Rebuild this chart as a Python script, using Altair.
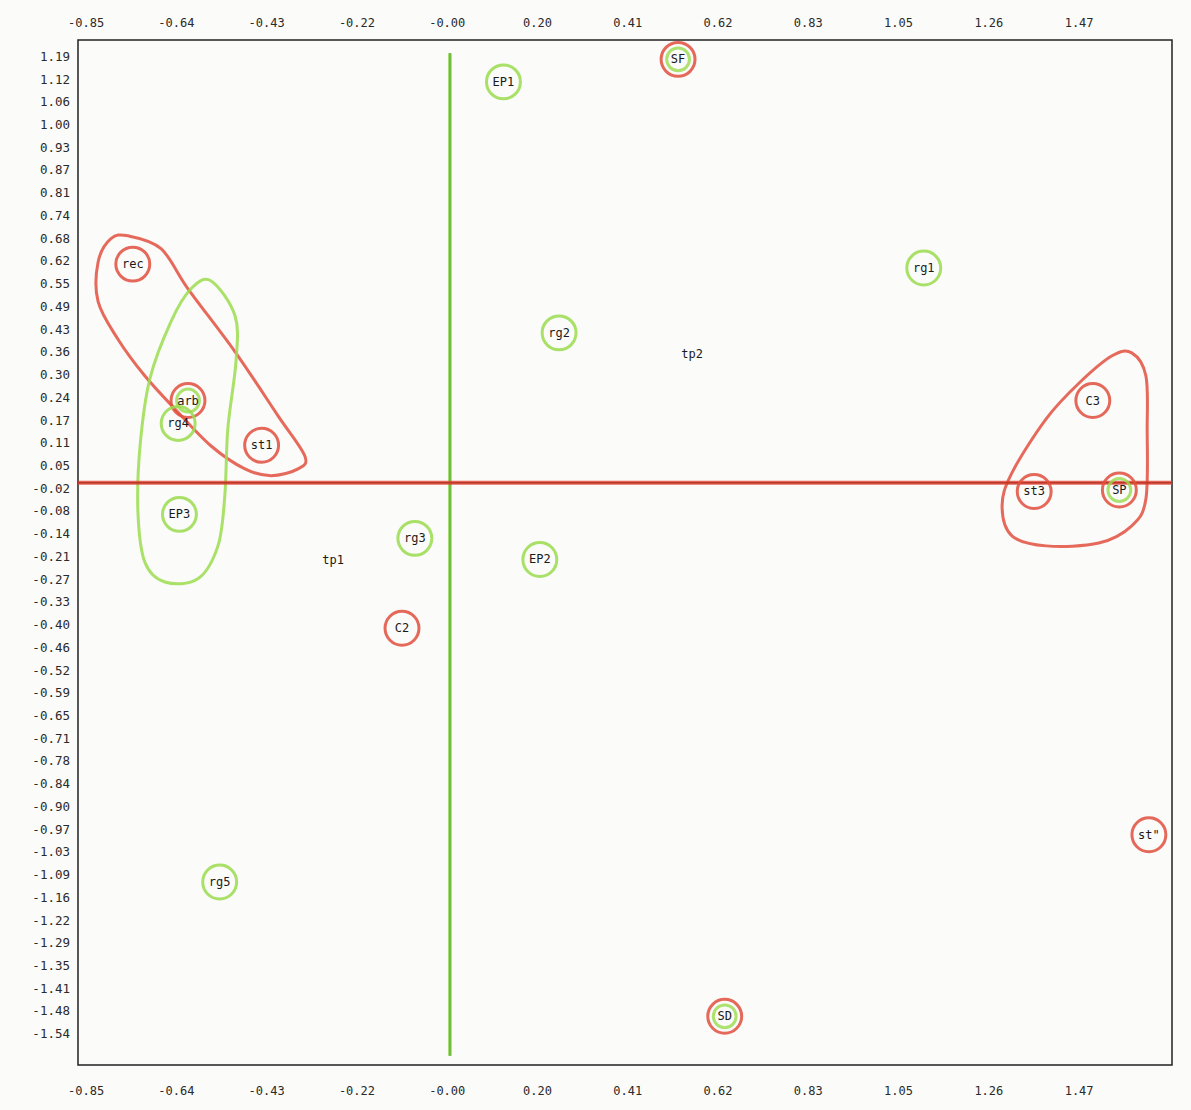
import altair as alt
import numpy as np
import pandas as pd

# Correspondence-analysis map: item coordinates on the first two axes
labels = ["EP1", "SF", "rg1", "rg2", "tp2", "rec", "arb", "rg4", "st1", "C3",
          "st3", "SP", "EP3", "rg3", "tp1", "EP2", "C2", 'st"', "rg5", "SD"]
coord_x = [0.125, 0.533, 1.107, 0.255, 0.566, -0.741, -0.612, -0.635, -0.440, 1.502,
           1.365, 1.564, -0.632, -0.082, -0.273, 0.210, -0.112, 1.633, -0.538, 0.642]
coord_y = [1.120, 1.183, 0.600, 0.419, 0.359, 0.611, 0.230, 0.166, 0.105, 0.230,
           -0.024, -0.020, -0.088, -0.155, -0.216, -0.214, -0.406, -0.983, -1.115, -1.490]
# hand-marked rings around items ("" = no ring)
outer_ring = ["green", "red", "green", "green", "", "red", "red", "green", "red", "red",
              "red", "red", "green", "green", "", "green", "red", "red", "green", "red"]
inner_ring = ["", "green", "", "", "", "", "green", "", "", "",
              "", "green", "", "", "", "", "", "", "", "green"]

# axis tick labels as printed (ticks are evenly spaced between the end labels)
x_tick_labels = ["-0.85", "-0.64", "-0.43", "-0.22", "-0.00", "0.20", "0.41", "0.62",
                 "0.83", "1.05", "1.26", "1.47"]
y_tick_labels = ["1.19", "1.12", "1.06", "1.00", "0.93", "0.87", "0.81", "0.74", "0.68",
                 "0.62", "0.55", "0.49", "0.43", "0.36", "0.30", "0.24", "0.17", "0.11",
                 "0.05", "-0.02", "-0.08", "-0.14", "-0.21", "-0.27", "-0.33", "-0.40",
                 "-0.46", "-0.52", "-0.59", "-0.65", "-0.71", "-0.78", "-0.84", "-0.90",
                 "-0.97", "-1.03", "-1.09", "-1.16", "-1.22", "-1.29", "-1.35", "-1.41",
                 "-1.48", "-1.54"]
x_range = [-0.869, 1.687]
y_range = [-1.626, 1.237]

# hand-drawn group outlines (closed loops)
loop_a_x = [-0.752, -0.675, -0.612, -0.502, -0.402, -0.339, -0.355, -0.418,
            -0.479, -0.558, -0.643, -0.713, -0.776, -0.822, -0.822, -0.792]
loop_a_y = [0.690, 0.654, 0.542, 0.366, 0.188, 0.075, 0.039, 0.020,
            0.039, 0.103, 0.207, 0.299, 0.402, 0.506, 0.617, 0.682]
loop_b_x = [-0.558, -0.502, -0.500, -0.519, -0.526, -0.542, -0.589, -0.666,
            -0.713, -0.729, -0.724, -0.701, -0.652, -0.605]
loop_b_y = [0.564, 0.466, 0.338, 0.151, -0.036, -0.176, -0.268, -0.277,
            -0.221, -0.081, 0.103, 0.291, 0.450, 0.542]
loop_c_x = [1.593, 1.626, 1.629, 1.626, 1.593, 1.516, 1.393, 1.313,
            1.290, 1.313, 1.393, 1.470, 1.547]
loop_c_y = [0.363, 0.299, 0.151, -0.045, -0.120, -0.168, -0.176, -0.148,
            -0.064, 0.028, 0.179, 0.279, 0.355]

RED = "#e2503f"
GREEN = "#9bdc4f"
MONO = "DejaVu Sans Mono"
TICK_COLOR = "#2a2a2a"

points = pd.DataFrame({"label": labels, "x": coord_x, "y": coord_y,
                       "outer": outer_ring, "inner": inner_ring})

loops = []
for name, color, xs_, ys_ in [("a", "red", loop_a_x, loop_a_y),
                              ("b", "green", loop_b_x, loop_b_y),
                              ("c", "red", loop_c_x, loop_c_y)]:
    for i, (lx, ly) in enumerate(zip(xs_, ys_)):
        loops.append({"loop": name, "color": color, "order": i, "x": lx, "y": ly})
loops = pd.DataFrame(loops)

x_ticks = pd.DataFrame({
    "v": np.linspace(float(x_tick_labels[0]), float(x_tick_labels[-1]), len(x_tick_labels)),
    "txt": x_tick_labels})
y_ticks = pd.DataFrame({
    "v": np.linspace(float(y_tick_labels[0]), float(y_tick_labels[-1]), len(y_tick_labels)),
    "txt": y_tick_labels})

xs = alt.Scale(domain=x_range, nice=False, zero=False)
ys = alt.Scale(domain=y_range, nice=False, zero=False)
ring_colors = alt.Scale(domain=["red", "green"], range=[RED, GREEN])

loop_layer = alt.Chart(loops).mark_line(
    interpolate="cardinal-closed", strokeWidth=3, opacity=0.85
).encode(
    x=alt.X("x:Q", scale=xs, axis=None),
    y=alt.Y("y:Q", scale=ys, axis=None),
    detail="loop:N",
    order="order:Q",
    color=alt.Color("color:N", scale=ring_colors, legend=None),
)

axes_df = pd.DataFrame({"x0": [0.0], "y0": [0.0], "ytop": [1.2], "ybot": [-1.6],
                        "xl": [x_range[0]], "xr": [x_range[1]]})
vline_dark = alt.Chart(axes_df).mark_rule(color="#1c2a14", strokeWidth=1.2).encode(
    x=alt.X("x0:Q", scale=xs, axis=None),
    y=alt.Y("ytop:Q", scale=ys, axis=None), y2="ybot:Q")
vline = alt.Chart(axes_df).mark_rule(color="#74cc2e", strokeWidth=3.5, opacity=0.8).encode(
    x=alt.X("x0:Q", scale=xs, axis=None),
    y=alt.Y("ytop:Q", scale=ys, axis=None), y2="ybot:Q")
hline_dark = alt.Chart(axes_df).mark_rule(color="#2a1410", strokeWidth=1.5).encode(
    y=alt.Y("y0:Q", scale=ys, axis=None),
    x=alt.X("xl:Q", scale=xs, axis=None), x2="xr:Q")
hline = alt.Chart(axes_df).mark_rule(color="#e0402f", strokeWidth=4, opacity=0.8).encode(
    y=alt.Y("y0:Q", scale=ys, axis=None),
    x=alt.X("xl:Q", scale=xs, axis=None), x2="xr:Q")

outer_layer = alt.Chart(points).transform_filter("datum.outer != ''").mark_point(
    shape="circle", filled=False, size=1150, strokeWidth=3, opacity=0.85
).encode(
    x=alt.X("x:Q", scale=xs, axis=None),
    y=alt.Y("y:Q", scale=ys, axis=None),
    color=alt.Color("outer:N", scale=ring_colors, legend=None),
)
inner_layer = alt.Chart(points).transform_filter("datum.inner != ''").mark_point(
    shape="circle", filled=False, size=520, strokeWidth=3, opacity=0.8
).encode(
    x=alt.X("x:Q", scale=xs, axis=None),
    y=alt.Y("y:Q", scale=ys, axis=None),
    color=alt.Color("inner:N", scale=ring_colors, legend=None),
)
text_layer = alt.Chart(points).mark_text(
    font=MONO, fontSize=12, color="#1a1a1a"
).encode(
    x=alt.X("x:Q", scale=xs, axis=None),
    y=alt.Y("y:Q", scale=ys, axis=None),
    text="label:N",
)

# tick labels drawn through the scales just outside the frame
ytick_layer = alt.Chart(y_ticks).mark_text(
    font=MONO, fontSize=12.5, color=TICK_COLOR, align="right", baseline="middle", dx=-8
).encode(
    x=alt.value(0),
    y=alt.Y("v:Q", scale=ys, axis=None),
    text="txt:N",
)
xtick_top = alt.Chart(x_ticks).mark_text(
    font=MONO, fontSize=12, color=TICK_COLOR, align="center", baseline="middle", dy=-17
).encode(
    x=alt.X("v:Q", scale=xs, axis=None),
    y=alt.value(0),
    text="txt:N",
)
xtick_bottom = alt.Chart(x_ticks).mark_text(
    font=MONO, fontSize=12, color=TICK_COLOR, align="center", baseline="middle", dy=26
).encode(
    x=alt.X("v:Q", scale=xs, axis=None),
    y=alt.value(1025),
    text="txt:N",
)

chart = alt.layer(
    loop_layer, vline_dark, vline, hline_dark, hline,
    outer_layer, inner_layer, text_layer, ytick_layer, xtick_top, xtick_bottom
).properties(
    width=1094, height=1025, autosize="none",
    padding={"left": 78, "top": 40, "right": 19, "bottom": 45},
    background="#fbfbf9",
).configure_view(stroke="#222222", strokeWidth=1.5)

chart.save("out.html", embed_options={"renderer": "svg", "actions": False})
